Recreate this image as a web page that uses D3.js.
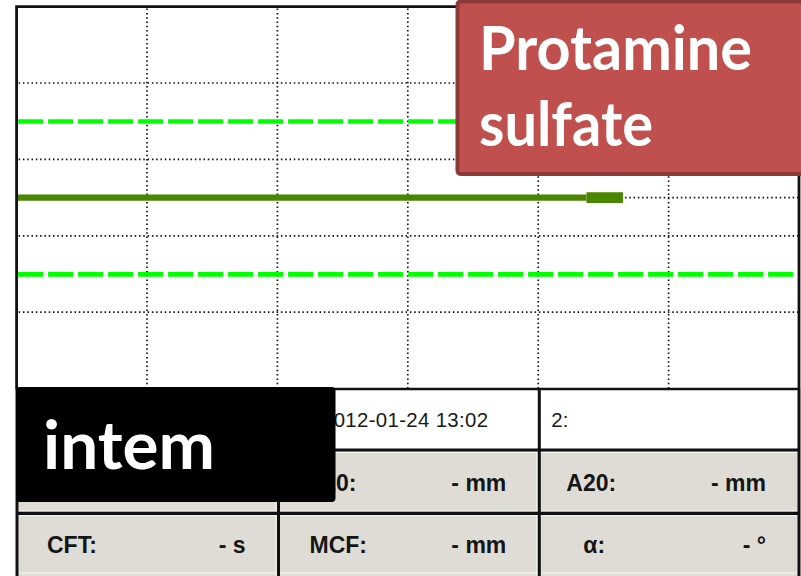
<!DOCTYPE html>
<html>
<head>
<meta charset="utf-8">
<script src="https://cdn.jsdelivr.net/npm/d3@7"></script>
<style>
  html, body { margin: 0; padding: 0; background: #fff; }
  svg { display: block; }
</style>
</head>
<body>
<svg id="chart" width="801" height="576"></svg>
<script>
// ---- Data ----------------------------------------------------------------
// Time axis (minutes) and amplitude axis (mm, mirrored around 0)
const timeDomain = [0, 60];
const ampDomain = [-50, 50];
const timeGrid = [10, 20, 30, 40, 50];
const ampGrid = [-30, -10, 10, 30];
const refAmp = [-20, 20];                // dashed reference band
// Clot amplitude trace (flat: no clot formation)
const traceTime = [0, 43.7];
const traceAmp = [0, 0];
// Latest measurement segment
const cursorTime = [43.7, 46.5];
const cursorAmp = [0, 0];

// Result table
const runInfo = ["", "2012-01-24 13:02", "2:"];
const paramLabels = [["CT:", "A10:", "A20:"], ["CFT:", "MCF:", "α:"]];
const paramValues = [["- s", "- mm", "- mm"], ["- s", "- mm", "- °"]];

// Annotations
const assayLabel = "intem";
const drugLabel = ["Protamine", "sulfate"];

// ---- Layout --------------------------------------------------------------
const svg = d3.select("#chart");
const plot = { left: 16.6, right: 799, top: 6.6, bottom: 388.6 };
const x = d3.scaleLinear().domain(timeDomain).range([plot.left, plot.right]);
const y = d3.scaleLinear().domain(ampDomain).range([plot.bottom, plot.top]);

svg.append("rect").attr("width", 801).attr("height", 576).attr("fill", "#fff");

// Dotted grid
const dotStyle = g => g.attr("stroke", "#111").attr("stroke-width", 1.7)
  .attr("stroke-dasharray", "1.5,2.8").attr("fill", "none");

svg.append("g").selectAll("line").data(timeGrid).join("line")
  .attr("x1", d => x(d)).attr("x2", d => x(d))
  .attr("y1", plot.top + 2).attr("y2", plot.bottom)
  .call(dotStyle);

svg.append("g").selectAll("line").data(ampGrid).join("line")
  .attr("x1", plot.left + 2).attr("x2", plot.right - 1)
  .attr("y1", d => y(d)).attr("y2", d => y(d))
  .call(dotStyle);

// Centre line, visible after the trace ends
svg.append("line")
  .attr("x1", x(cursorTime[1]) + 2).attr("x2", plot.right - 1)
  .attr("y1", y(0)).attr("y2", y(0))
  .call(dotStyle);

// Reference band
svg.append("g").selectAll("line").data(refAmp).join("line")
  .attr("x1", plot.left + 1.5).attr("x2", plot.right)
  .attr("y1", d => y(d) + 0.3).attr("y2", d => y(d) + 0.3)
  .attr("stroke", "#00ff00").attr("stroke-width", 4.7)
  .attr("stroke-dasharray", "25,5");

// Amplitude trace
const line = d3.line().x(d => x(d[0])).y(d => y(d[1]));
svg.append("path")
  .datum(d3.zip(traceTime, traceAmp))
  .attr("d", line)
  .attr("fill", "none").attr("stroke", "#4a8600").attr("stroke-width", 6.2);
svg.append("path")
  .datum(d3.zip(cursorTime, cursorAmp))
  .attr("d", line)
  .attr("fill", "none").attr("stroke", "#4a8600").attr("stroke-width", 10.6);

// Plot frame
svg.append("path")
  .attr("d", `M${plot.left},${plot.bottom + 1} V${plot.top} H${plot.right} V${plot.bottom + 1}`)
  .attr("fill", "none").attr("stroke", "#111").attr("stroke-width", 2.8);

// ---- Result table --------------------------------------------------------
const colX = [17, 278.5, 539.3, 799];
const rowY = [389, 450, 513.3, 580];
const gray = "#dedcd5";
const table = svg.append("g");

// Row backgrounds
table.append("rect").attr("x", colX[0]).attr("y", rowY[0])
  .attr("width", colX[3] - colX[0]).attr("height", rowY[1] - rowY[0]).attr("fill", "#fff");
table.append("rect").attr("x", colX[0]).attr("y", rowY[1])
  .attr("width", colX[3] - colX[0]).attr("height", rowY[3] - rowY[1]).attr("fill", gray);

// Light bevel edges on the grey rows
[rowY[1] + 2.5, rowY[2] - 2.5, rowY[2] + 2.5, 573].forEach(yy => {
  table.append("line").attr("x1", colX[0]).attr("x2", colX[3])
    .attr("y1", yy).attr("y2", yy).attr("stroke", "#f6f5f1").attr("stroke-width", 1);
});
[colX[1] - 2.5, colX[2] - 2.5].forEach(xx => {
  table.append("line").attr("x1", xx).attr("x2", xx)
    .attr("y1", rowY[1]).attr("y2", 576).attr("stroke", "#f6f5f1").attr("stroke-width", 1);
});

// Borders
const border = sel => sel.attr("stroke", "#111").attr("stroke-width", 3);
[rowY[0], rowY[1], rowY[2]].forEach((yy, i) => {
  table.append("line").attr("x1", colX[0]).attr("x2", colX[3])
    .attr("y1", yy).attr("y2", yy).call(border).attr("stroke-width", i === 0 ? 2.6 : 3.2);
});
colX.forEach(xx => {
  table.append("line").attr("x1", xx).attr("x2", xx)
    .attr("y1", rowY[0]).attr("y2", 576).call(border);
});

// Run info row
const infoFont = "'Liberation Sans', Arial, sans-serif";
table.append("text").text(runInfo[1])
  .attr("x", 488).attr("y", 427).attr("text-anchor", "end")
  .attr("font-family", infoFont).attr("font-size", 20.4)
  .attr("textLength", 166).attr("lengthAdjust", "spacing")
  .attr("fill", "#1a1a1a");
table.append("text").text(runInfo[2])
  .attr("x", colX[2] + 12).attr("y", 427)
  .attr("font-family", infoFont).attr("font-size", 20.4).attr("fill", "#1a1a1a");

// Parameter rows (the first cell of the first row sits under the assay callout)
const labelIndent = [[30, 28, 27], [30, 31, 44]];
const baseY = [491, 553];
paramLabels.forEach((row, r) => {
  row.forEach((lab, c) => {
    if (r === 0 && c === 0) return;
    table.append("text").text(lab)
      .attr("x", colX[c] + labelIndent[r][c]).attr("y", baseY[r])
      .attr("font-family", infoFont).attr("font-weight", "bold")
      .attr("font-size", 23).attr("fill", "#151515");
    table.append("text").text(paramValues[r][c])
      .attr("x", colX[c + 1] - 33).attr("y", baseY[r]).attr("text-anchor", "end")
      .attr("font-family", infoFont).attr("font-weight", "bold")
      .attr("font-size", 23).attr("fill", "#151515");
  });
});

// ---- Annotations ---------------------------------------------------------
const calloutFont = "Lato, 'Open Sans', sans-serif";

svg.append("rect")
  .attr("x", 16).attr("y", 387).attr("width", 319.5).attr("height", 115)
  .attr("rx", 4).attr("fill", "#000");
svg.append("text").text(assayLabel)
  .attr("x", 43).attr("y", 469)
  .attr("font-family", calloutFont).attr("font-weight", 700).attr("font-size", 66)
  .attr("textLength", 172).attr("lengthAdjust", "spacingAndGlyphs")
  .attr("fill", "#fff");

svg.append("rect")
  .attr("x", 457.5).attr("y", 1.5).attr("width", 360).attr("height", 172.5)
  .attr("rx", 3).attr("fill", "#c0504d").attr("stroke", "#8c3a38").attr("stroke-width", 4);
svg.append("text").text(drugLabel[0])
  .attr("x", 479).attr("y", 70)
  .attr("font-family", calloutFont).attr("font-weight", 700).attr("font-size", 62)
  .attr("textLength", 273).attr("lengthAdjust", "spacingAndGlyphs")
  .attr("fill", "#fff");
svg.append("text").text(drugLabel[1])
  .attr("x", 479).attr("y", 146)
  .attr("font-family", calloutFont).attr("font-weight", 700).attr("font-size", 62)
  .attr("textLength", 174).attr("lengthAdjust", "spacingAndGlyphs")
  .attr("fill", "#fff");
</script>
</body>
</html>
